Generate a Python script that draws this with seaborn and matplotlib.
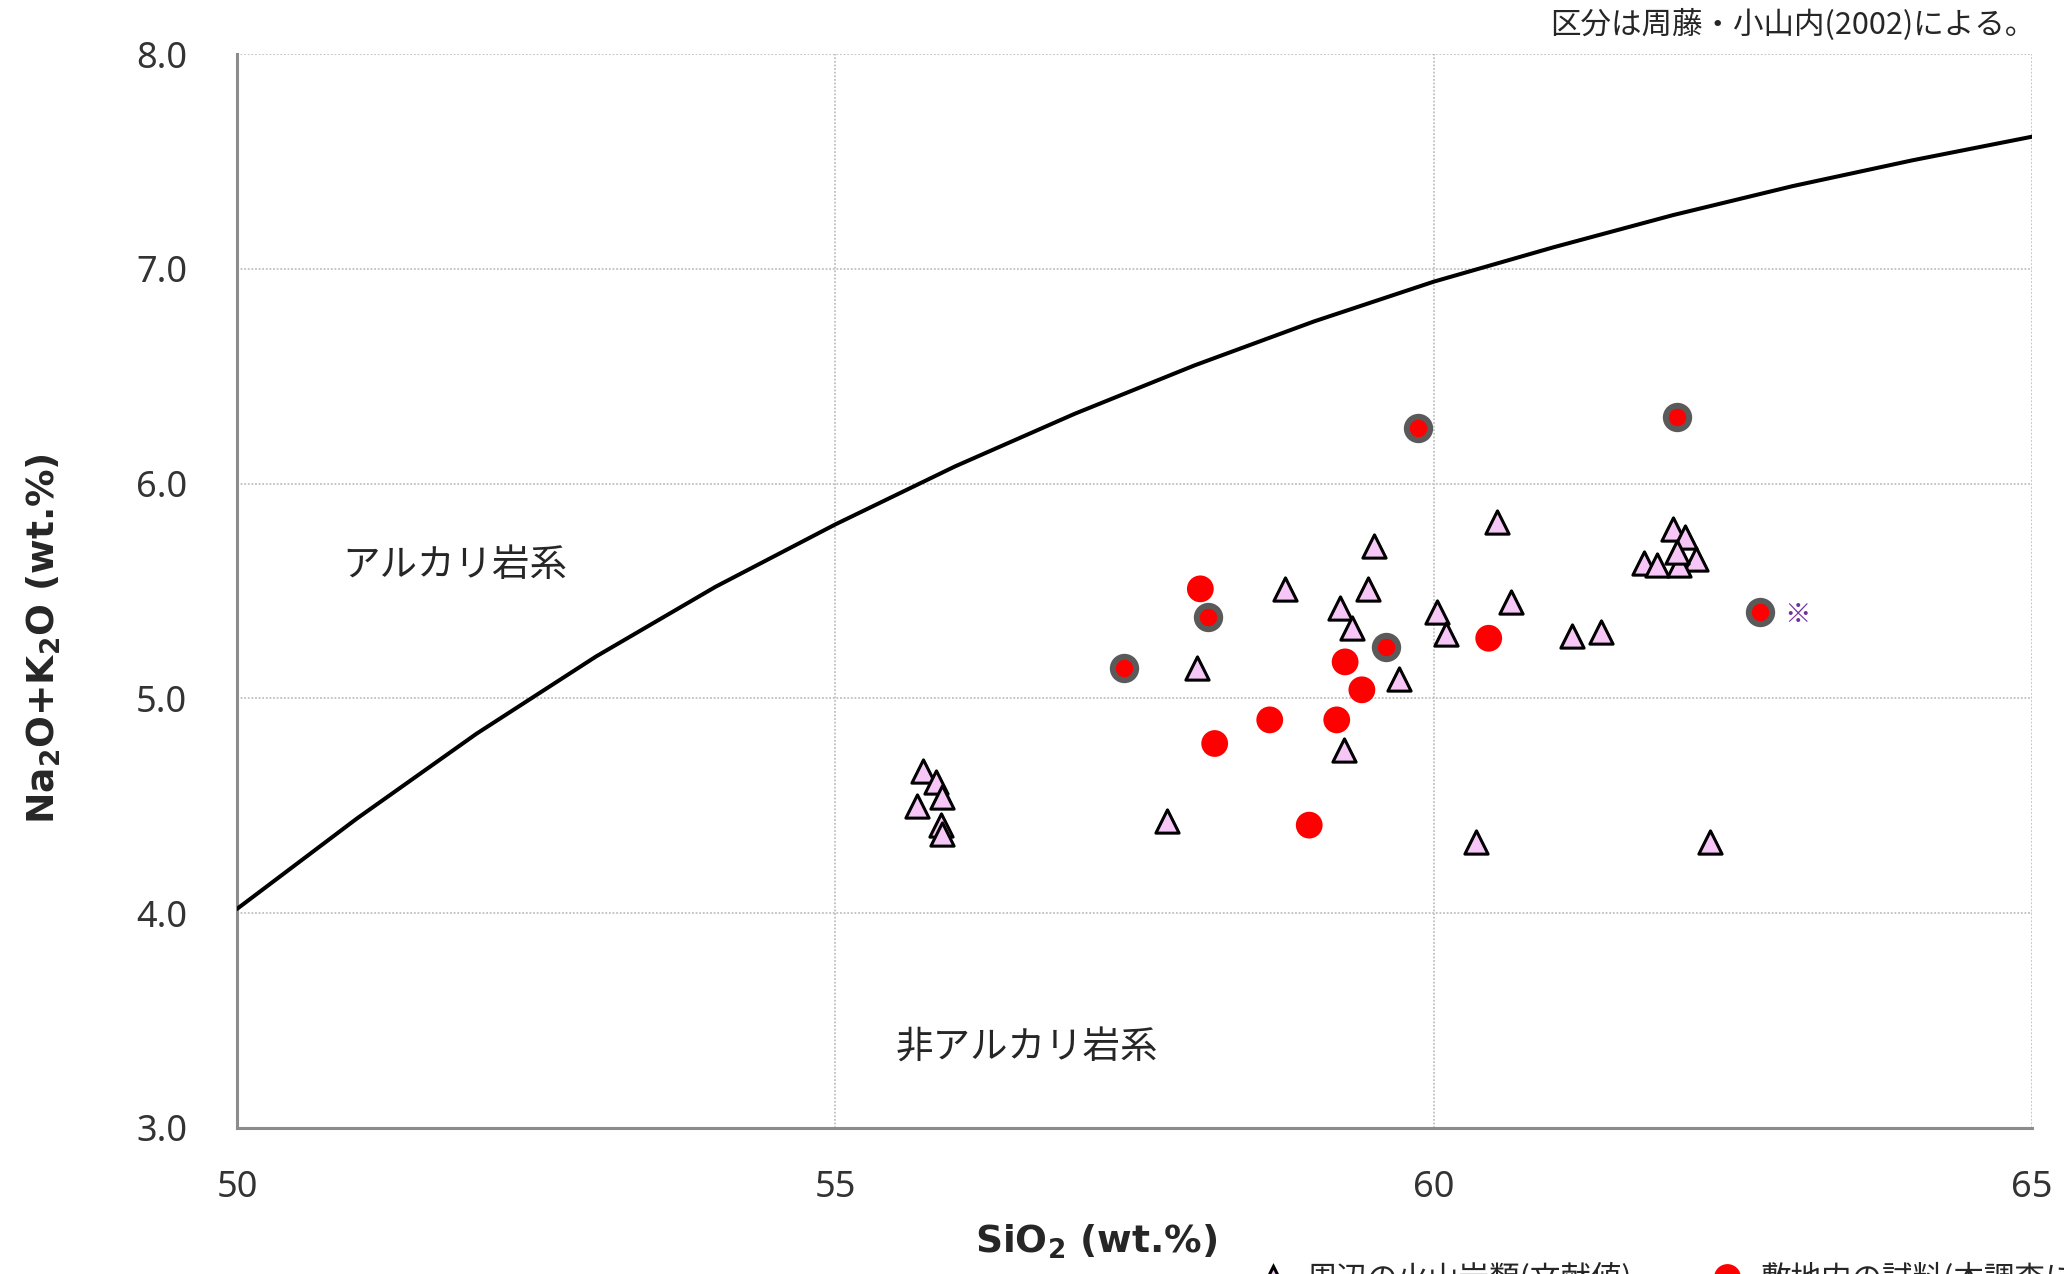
import numpy as np
import pandas as pd
import matplotlib.pyplot as plt
import seaborn as sns
from matplotlib.lines import Line2D

# アルカリ/非アルカリ境界線 (周藤・小山内 2002) - 図から読み取り
line_sio2 = [50, 51, 52, 53, 54, 55, 56, 57, 58, 59, 60, 61, 62, 63, 64, 65]
line_alk = [4.02, 4.44, 4.835, 5.195, 5.52, 5.81, 6.08, 6.325, 6.55, 6.755,
            6.94, 7.10, 7.25, 7.385, 7.505, 7.615]

# 三角 (ピンク)
tri_sio2 = [55.73, 55.84, 55.89, 55.68, 55.88, 55.89,
            57.77, 58.02, 58.76, 59.22, 59.25, 59.32, 59.45, 59.50, 59.71,
            60.03, 60.10, 60.35, 60.53, 60.65, 61.16, 61.40,
            62.00, 62.10, 62.19, 61.76, 61.87, 62.05, 62.03, 62.31]
tri_alk = [4.66, 4.61, 4.54, 4.50, 4.41, 4.37,
           4.43, 5.14, 5.51, 5.42, 4.76, 5.33, 5.51, 5.71, 5.09,
           5.40, 5.30, 4.33, 5.82, 5.45, 5.29, 5.31,
           5.79, 5.75, 5.65, 5.63, 5.62, 5.62, 5.68, 4.33]

# 赤丸
red_sio2 = [58.05, 58.17, 58.63, 58.96, 59.19, 59.26, 59.40, 60.46]
red_alk = [5.51, 4.79, 4.90, 4.41, 4.90, 5.17, 5.04, 5.28]

# 赤丸 (灰色の縁取り)
ring_sio2 = [57.41, 58.11, 59.60, 59.87, 62.03, 62.73]
ring_alk = [5.14, 5.38, 5.24, 6.26, 6.31, 5.40]

xticks = [50, 55, 60, 65]
yticks = [3.0, 4.0, 5.0, 6.0, 7.0, 8.0]

pink = "#F6C6F6"
red = "#FF0000"
ring_gray = "#5A5A5A"

sns.set_theme(style="white")
plt.rcParams["font.family"] = ["Noto Sans", "Noto Sans CJK JP", "DejaVu Sans"]
plt.rcParams["mathtext.fontset"] = "dejavusans"
jp = ["Noto Sans CJK JP", "DejaVu Sans"]

fig = plt.figure(figsize=(20.64, 12.74), dpi=100)
ax = fig.add_axes([0.11483, 0.11460, 0.86967, 0.84301])

df_line = pd.DataFrame({"SiO2": line_sio2, "alk": line_alk})
df_tri = pd.DataFrame({"SiO2": tri_sio2, "alk": tri_alk})
df_red = pd.DataFrame({"SiO2": red_sio2, "alk": red_alk})
df_ring = pd.DataFrame({"SiO2": ring_sio2, "alk": ring_alk})

sns.lineplot(data=df_line, x="SiO2", y="alk", color="black", lw=2.9,
             sort=False, estimator=None, ax=ax, zorder=3,
             solid_joinstyle="round", solid_capstyle="round")
sns.scatterplot(data=df_tri, x="SiO2", y="alk", marker="^", s=280,
                color=pink, edgecolor="black", linewidth=2.2, ax=ax, zorder=4)
sns.scatterplot(data=df_red, x="SiO2", y="alk", marker="o", s=372,
                color=red, edgecolor="none", linewidth=0, ax=ax, zorder=5)
sns.scatterplot(data=df_ring, x="SiO2", y="alk", marker="o", s=283,
                color=red, edgecolor=ring_gray, linewidth=4.3, ax=ax, zorder=5)

ax.set_xlim(50, 65)
ax.set_ylim(3, 8)
ax.set_xticks(xticks)
ax.set_yticks(yticks)
ax.set_yticklabels([f"{v:.1f}" for v in yticks])
ax.grid(True, color="#C0C0C0", lw=1.3, ls=(0, (1, 1)))

for s in ["top", "right"]:
    ax.spines[s].set_visible(False)
for s in ["left", "bottom"]:
    ax.spines[s].set_color("#8C8C8C")
    ax.spines[s].set_linewidth(2.2)
ax.tick_params(axis="both", which="major", direction="out", length=10,
               width=2.2, color="#8C8C8C", labelsize=26, labelcolor="#333333")
ax.tick_params(axis="y", pad=26)
ax.tick_params(axis="x", pad=20)

ax.set_xlabel(r"SiO$_\mathbf{2}$ (wt.%)", fontsize=27, fontweight="bold",
              family="DejaVu Sans")
ax.set_ylabel(r"Na$_\mathbf{2}$O+K$_\mathbf{2}$O (wt.%)", fontsize=27,
              fontweight="bold", family="DejaVu Sans")
ax.xaxis.set_label_coords(0.4786, -0.088)
ax.yaxis.set_label_coords(-0.097, 0.456)

ax.text(51.82, 5.62, "アルカリ岩系", fontsize=27, family=jp,
        ha="center", va="center")
ax.text(56.6, 3.37, "非アルカリ岩系", fontsize=27, family=jp,
        ha="center", va="center")
ax.text(63.04, 5.385, "※", fontsize=19, family=jp, color="#7030A0",
        ha="center", va="center", zorder=6)

fig.text(0.986, 0.980, "区分は周藤・小山内(2002)による。", fontsize=22,
         family=jp, ha="right", va="center")

# 下端の凡例 (元図でも画像下端で切れている)
h_tri = Line2D([], [], ls="", marker="^", ms=16.5, mfc=pink, mec="black", mew=2.2)
h_red = Line2D([], [], ls="", marker="o", ms=19.3, mfc=red, mec="none")
leg_kw = dict(loc="center left", frameon=False, borderpad=0, borderaxespad=0,
              handlelength=1.0, handletextpad=0.6,
              prop={"family": jp, "size": 22})
fig.legend([h_tri], ["周辺の火山岩類(文献値)"], bbox_to_anchor=(0.6095, -0.004), **leg_kw)
fig.legend([h_red], ["敷地内の試料(本調査による分析)"], bbox_to_anchor=(0.8295, -0.004), **leg_kw)

fig.savefig("out.png", dpi=100)
